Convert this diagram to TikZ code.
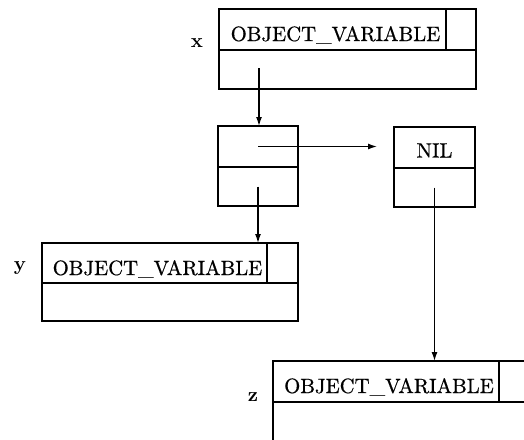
\documentclass[tikz,border=0pt]{standalone}
\usepackage{fontspec}
\setmainfont{lmroman10-regular.otf}[BoldFont=lmroman10-bold.otf]
\newfontfamily\medfont{lmroman10-regular.otf}[FakeBold=0.6]
\newcommand{\celltext}[2][11.5pt]{\raisebox{-#1}[0pt][0pt]{#2}}
\usetikzlibrary{arrows.meta,calc}
\begin{document}
\begin{tikzpicture}[x=1pt,y=-1pt,
  cell/.style={draw, line width=1.5pt, inner sep=0pt, outer sep=0pt, anchor=north west,
    font=\medfont\fontsize{20.7}{24}\selectfont},
  arr/.style={line width=1.3pt, -{Latex[length=9pt,width=6pt]}},
  lab/.style={font=\bfseries\fontsize{20}{22}\selectfont, inner sep=0pt}]
\useasboundingbox (0,0) rectangle (524,439);
\clip (0,0) rectangle (524,439);
% x record
\node[cell, minimum width=227pt, minimum height=41pt] (xobj) at (219,9) {\hspace*{6pt}\celltext{OBJECT\textunderscore VARIABLE}};
\node[cell, minimum width=30pt, minimum height=41pt] (xext) at (446,9) {};
\node[cell, minimum width=257pt, minimum height=39pt] (xval) at (219,50) {};
\node[lab] (xl) at (197,43) {x};
% middle cons cell
\node[cell, minimum width=80pt, minimum height=41pt] (mcar) at (218,126) {};
\node[cell, minimum width=80pt, minimum height=39pt] (mcdr) at (218,167) {};
% NIL cell
\node[cell, minimum width=81pt, minimum height=41pt] (nil) at (394,127) {\celltext[10pt]{NIL}};
\node[cell, minimum width=81pt, minimum height=39pt] (nilcdr) at (394,168) {};
% y record
\node[cell, minimum width=225pt, minimum height=40pt] (yobj) at (42,243) {\hspace*{6pt}\celltext[12pt]{OBJECT\textunderscore VARIABLE}};
\node[cell, minimum width=31pt, minimum height=40pt] (yext) at (267,243) {};
\node[cell, minimum width=256pt, minimum height=38pt] (yval) at (42,283) {};
\node[lab] (yl) at (20,268) {y};
% z record
\node[cell, minimum width=226pt, minimum height=41pt] (zobj) at (273,361) {\hspace*{6pt}\celltext{OBJECT\textunderscore VARIABLE}};
\node[cell, minimum width=60pt, minimum height=41pt] (zext) at (499,361) {};
\node[cell, minimum width=286pt, minimum height=60pt] (zval) at (273,402) {};
\node[lab] (zl) at (253,397) {z};
% connectors
\coordinate (xs) at ($(xval.north west)+(40,18)$);
\draw[arr] (xs) -- (xs |- mcar.north);
\draw[arr, shorten >=17pt] (mcar.center) -- (mcar.center -| nil.west);
\draw[arr] (mcdr.center) -- (mcdr.center |- yobj.north);
\draw[arr] (nilcdr.center) -- (nilcdr.center |- zobj.north);
\end{tikzpicture}
\end{document}
